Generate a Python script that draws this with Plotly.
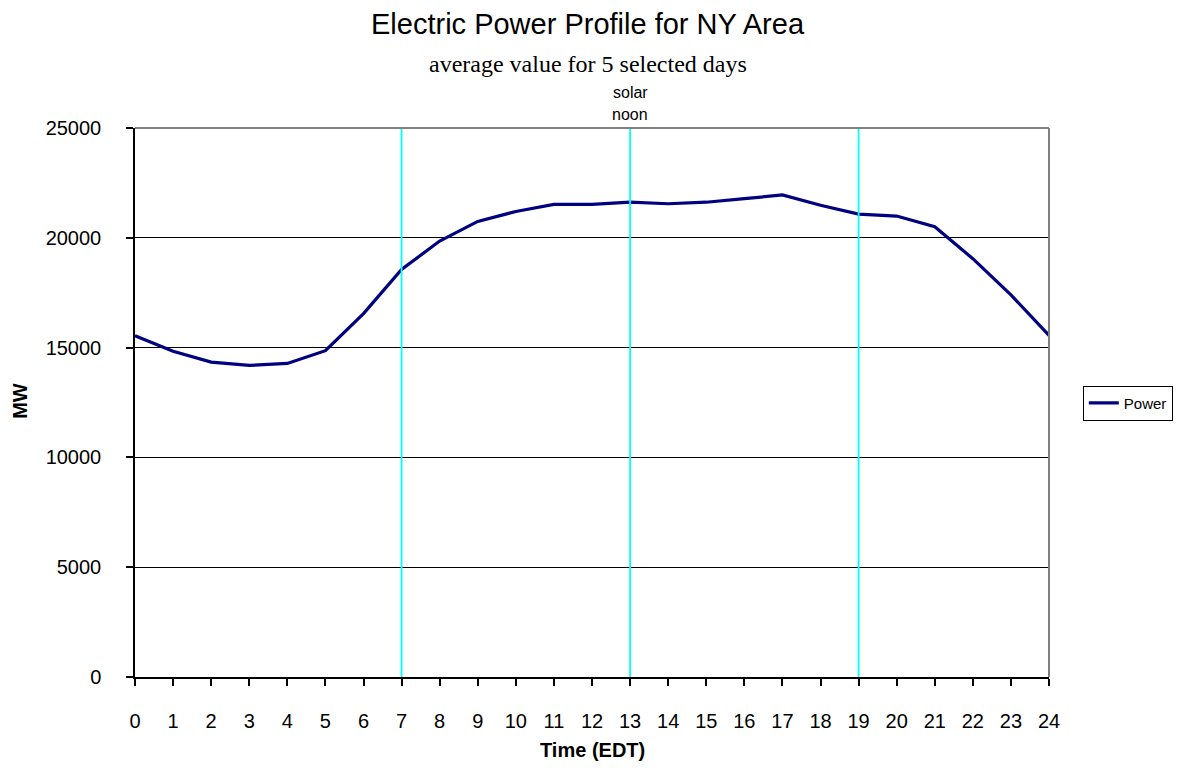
import plotly.graph_objects as go

hours = list(range(25))
power_mw = [15540, 14830, 14340, 14190, 14280, 14860, 16550, 18560, 19850, 20745,
            21200, 21520, 21520, 21620, 21550, 21620, 21780, 21950, 21480, 21080,
            20990, 20500, 19050, 17400, 15560]
marker_hours = [7, 13, 19]
x_ticks = list(range(25))
y_ticks = [0, 5000, 10000, 15000, 20000, 25000]
y_tick_labels = [str(v) for v in y_ticks]

fig = go.Figure()
fig.add_trace(go.Scatter(x=hours, y=power_mw, mode="lines", name="Power",
                         line=dict(color="#000080", width=3.2)))

shapes = []
for h in marker_hours:
    shapes.append(dict(type="line", xref="x", yref="paper", x0=h, x1=h, y0=0, y1=1,
                       line=dict(color="#00FFFF", width=1.8), layer="above"))
# gray top/right border
shapes.append(dict(type="line", xref="paper", yref="paper", x0=0, x1=1, y0=1, y1=1,
                   line=dict(color="#808080", width=2), layer="above"))
shapes.append(dict(type="line", xref="paper", yref="paper", x0=1, x1=1, y0=0, y1=1,
                   line=dict(color="#808080", width=2), layer="above"))

SANS = "Liberation Sans, Arial"
annotations = [
    dict(text="Electric Power Profile for NY Area", xref="paper", yref="paper",
         x=0.4956, y=1.19, showarrow=False, xanchor="center", yanchor="middle",
         font=dict(family=SANS, size=29, color="black")),
    dict(text="average value for 5 selected days", xref="paper", yref="paper",
         x=0.4956, y=1.1166, showarrow=False, xanchor="center", yanchor="middle",
         font=dict(family="Liberation Serif, Times New Roman", size=24, color="black")),
    dict(text="solar", xref="x", yref="paper", x=13, y=1.0638, showarrow=False,
         xanchor="center", yanchor="middle",
         font=dict(family=SANS, size=16, color="black")),
    dict(text="noon", xref="x", yref="paper", x=13, y=1.0237, showarrow=False,
         xanchor="center", yanchor="middle",
         font=dict(family=SANS, size=16, color="black")),
    dict(text="<b>Time (EDT)</b>", xref="paper", yref="paper", x=0.5, y=-0.133,
         showarrow=False, xanchor="center", yanchor="middle",
         font=dict(family=SANS, size=20, color="black")),
    dict(text="<b>MW</b>", xref="paper", yref="paper", x=-0.1258, y=0.503,
         showarrow=False, xanchor="center", yanchor="middle", textangle=-90,
         font=dict(family=SANS, size=20, color="black")),
]

fig.update_layout(
    width=1186, height=769,
    margin=dict(l=127, r=145, t=120, b=100),
    paper_bgcolor="white", plot_bgcolor="white",
    font=dict(family=SANS, size=20, color="black"),
    showlegend=True,
    legend=dict(x=1.037, y=0.499, xanchor="left", yanchor="middle",
                bordercolor="black", borderwidth=1, bgcolor="white",
                font=dict(size=15), itemwidth=30),
    shapes=shapes,
    annotations=annotations,
    xaxis=dict(range=[0, 24], tickvals=x_ticks, ticks="outside", ticklen=7,
               tickcolor="black", tickwidth=1.5, showline=True, linecolor="black",
               linewidth=1.5, showgrid=False, zeroline=False, ticklabelstandoff=18,
               tickfont=dict(size=20)),
    yaxis=dict(range=[0, 25000], tickvals=y_ticks, ticktext=y_tick_labels,
               ticks="outside", ticklen=7, tickcolor="black", tickwidth=1.5,
               showline=True, linecolor="black", linewidth=1.5,
               showgrid=True, gridcolor="black", gridwidth=1.3, zeroline=False,
               ticklabelstandoff=21, tickfont=dict(size=20)),
)

fig.write_html("out.html")
